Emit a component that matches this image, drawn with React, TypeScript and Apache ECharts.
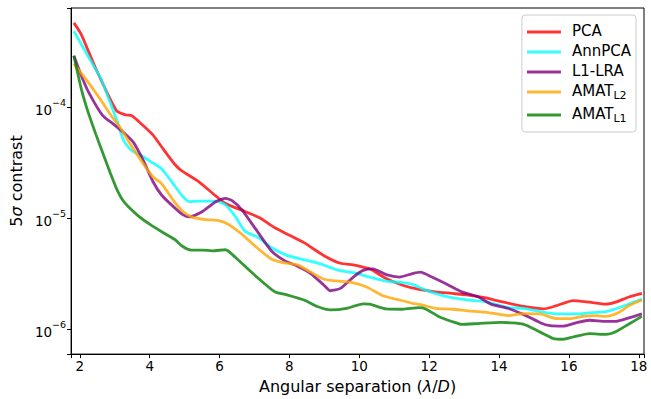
import React, { useEffect, useRef } from "react";
import * as echarts from "echarts";

const seriesNames = ["PCA", "AnnPCA", "L1-LRA", "AMAT_L2", "AMAT_L1"];
const seriesColors = [
  "rgba(255,0,0,0.8)",
  "rgba(0,255,255,0.8)",
  "rgba(128,0,128,0.8)",
  "rgba(255,165,0,0.8)",
  "rgba(0,128,0,0.8)",
];

const xTicks = [2, 4, 6, 8, 10, 12, 14, 16, 18];

const pca: [number, number][] = [
  [1.83, 5.73e-4], [2.04, 4.52e-4], [2.46, 2.21e-4], [3.05, 9.28e-5], [3.3, 8.55e-5],
  [3.49, 8.37e-5], [3.68, 7.46e-5], [4.08, 5.69e-5], [4.39, 4.19e-5], [4.71, 3.08e-5],
  [4.9, 2.7e-5], [5.42, 2.12e-5], [5.89, 1.59e-5], [6.17, 1.36e-5], [6.73, 1.15e-5],
  [7.15, 1.01e-5], [7.58, 8.21e-6], [8.05, 6.93e-6], [8.42, 6.04e-6], [8.99, 4.61e-6],
  [9.46, 3.94e-6], [9.83, 3.81e-6], [10.11, 3.63e-6], [10.3, 3.51e-6], [10.77, 2.87e-6],
  [11.24, 2.5e-6], [11.71, 2.29e-6], [12.18, 2.18e-6], [12.65, 2.11e-6], [13.12, 2.04e-6],
  [13.59, 1.93e-6], [14.06, 1.78e-6], [14.71, 1.61e-6], [15.28, 1.53e-6], [15.65, 1.64e-6],
  [16.12, 1.82e-6], [16.59, 1.76e-6], [17.06, 1.69e-6], [17.34, 1.76e-6], [17.72, 1.96e-6],
  [18.09, 2.11e-6],
];

const annPca: [number, number][] = [
  [1.83, 4.83e-4], [2.23, 2.9e-4], [2.6, 1.81e-4], [2.93, 9.8e-5], [3.07, 7.47e-5],
  [3.26, 4.96e-5], [3.49, 4.05e-5], [3.77, 3.66e-5], [4.06, 3.19e-5], [4.34, 2.79e-5],
  [4.67, 2.05e-5], [4.95, 1.57e-5], [5.14, 1.41e-5], [5.42, 1.43e-5], [5.89, 1.43e-5],
  [6.17, 1.32e-5], [6.45, 1.04e-5], [6.73, 7.67e-6], [7.11, 6.7e-6], [7.48, 5.46e-6],
  [7.95, 4.61e-6], [8.42, 4.25e-6], [8.89, 3.89e-6], [9.36, 3.44e-6], [9.83, 3.24e-6],
  [10.3, 2.96e-6], [10.77, 2.72e-6], [11.24, 2.64e-6], [11.52, 2.54e-6], [11.9, 2.26e-6],
  [12.27, 2.07e-6], [12.65, 1.93e-6], [13.12, 1.84e-6], [13.59, 1.78e-6], [13.96, 1.66e-6],
  [14.25, 1.57e-6], [14.71, 1.55e-6], [15.18, 1.45e-6], [15.65, 1.38e-6], [16.12, 1.38e-6],
  [16.59, 1.41e-6], [17.06, 1.45e-6], [17.53, 1.61e-6], [18.09, 1.88e-6],
];

const l1Lra: [number, number][] = [
  [1.83, 2.9e-4], [2.04, 1.93e-4], [2.27, 1.33e-4], [2.65, 8.45e-5], [2.98, 6.97e-5],
  [3.26, 5.88e-5], [3.54, 4.8e-5], [3.82, 3.3e-5], [4.1, 2.12e-5], [4.34, 1.62e-5],
  [4.67, 1.28e-5], [4.95, 1.08e-5], [5.14, 1.03e-5], [5.51, 1.15e-5], [5.89, 1.41e-5],
  [6.17, 1.51e-5], [6.36, 1.44e-5], [6.64, 1.19e-5], [7.01, 8.21e-6], [7.48, 5.11e-6],
  [7.86, 4.16e-6], [8.23, 3.71e-6], [8.61, 3.18e-6], [8.99, 2.5e-6], [9.17, 2.23e-6],
  [9.46, 2.34e-6], [9.83, 2.96e-6], [10.11, 3.4e-6], [10.39, 3.51e-6], [10.77, 3.11e-6],
  [11.15, 2.96e-6], [11.52, 3.18e-6], [11.75, 3.28e-6], [12.08, 2.96e-6], [12.56, 2.5e-6],
  [12.93, 2.18e-6], [13.4, 1.97e-6], [13.77, 1.69e-6], [14.25, 1.55e-6], [14.71, 1.36e-6],
  [15.18, 1.15e-6], [15.46, 1.08e-6], [15.84, 1.07e-6], [16.22, 1.15e-6], [16.59, 1.21e-6],
  [17.06, 1.18e-6], [17.34, 1.18e-6], [17.72, 1.27e-6], [18.09, 1.38e-6],
];

const amatL2: [number, number][] = [
  [1.83, 2.45e-4], [2.23, 1.69e-4], [2.6, 1.16e-4], [2.88, 8.55e-5], [3.16, 6.52e-5],
  [3.45, 4.63e-5], [3.82, 3.08e-5], [4.1, 2.35e-5], [4.34, 2.05e-5], [4.67, 1.46e-5],
  [4.95, 1.15e-5], [5.23, 1.02e-5], [5.61, 9.73e-6], [5.98, 9.55e-6], [6.26, 8.8e-6],
  [6.64, 7.18e-6], [7.01, 5.65e-6], [7.48, 4.31e-6], [7.86, 3.97e-6], [8.23, 3.81e-6],
  [8.61, 3.28e-6], [8.99, 2.83e-6], [9.36, 2.73e-6], [9.74, 2.67e-6], [10.21, 2.41e-6],
  [10.68, 2.01e-6], [11.15, 1.84e-6], [11.52, 1.72e-6], [11.8, 1.66e-6], [12.18, 1.55e-6],
  [12.65, 1.52e-6], [13.12, 1.47e-6], [13.59, 1.43e-6], [14.06, 1.36e-6], [14.25, 1.33e-6],
  [14.71, 1.39e-6], [15.18, 1.38e-6], [15.65, 1.25e-6], [16.03, 1.25e-6], [16.4, 1.31e-6],
  [16.78, 1.33e-6], [17.06, 1.31e-6], [17.44, 1.43e-6], [17.72, 1.64e-6], [18.09, 1.84e-6],
];

const amatL1: [number, number][] = [
  [1.83, 2.9e-4], [2.04, 1.47e-4], [2.23, 9.16e-5], [2.46, 5.69e-5], [2.65, 3.92e-5],
  [2.88, 2.52e-5], [3.07, 1.79e-5], [3.26, 1.41e-5], [3.63, 1.08e-5], [4.01, 8.8e-6],
  [4.39, 7.41e-6], [4.71, 6.48e-6], [4.95, 5.57e-6], [5.18, 5.18e-6], [5.51, 5.18e-6],
  [5.79, 5.1e-6], [6.17, 5.21e-6], [6.45, 4.46e-6], [7.01, 3.07e-6], [7.58, 2.18e-6],
  [7.95, 2.04e-6], [8.42, 1.84e-6], [8.8, 1.61e-6], [9.17, 1.5e-6], [9.64, 1.55e-6],
  [10.11, 1.7e-6], [10.3, 1.69e-6], [10.77, 1.53e-6], [11.24, 1.52e-6], [11.71, 1.57e-6],
  [11.9, 1.53e-6], [12.27, 1.31e-6], [12.65, 1.18e-6], [12.93, 1.11e-6], [13.4, 1.13e-6],
  [14.06, 1.16e-6], [14.71, 1.11e-6], [15.18, 9.46e-7], [15.56, 8.27e-7], [15.84, 8.16e-7],
  [16.12, 8.55e-7], [16.59, 9.16e-7], [17.06, 9.03e-7], [17.34, 9.54e-7], [17.72, 1.12e-6],
  [18.09, 1.31e-6],
];

const seriesData = [pca, annPca, l1Lra, amatL2, amatL1];

const FONT = "DejaVu Sans";

export default function App() {
  const ref = useRef<HTMLDivElement>(null);
  useEffect(() => {
    if (!ref.current) return;
    const chart = echarts.init(ref.current, null, { renderer: "svg" });
    const option: any = {
      animation: false,
      backgroundColor: "#fff",
      textStyle: { fontFamily: FONT },
      grid: {
        left: 63,
        right: 7,
        top: 8,
        bottom: 38,
        show: true,
        borderColor: "#000",
        borderWidth: 1,
        backgroundColor: "transparent",
      },
      legend: {
        orient: "vertical",
        right: 15,
        top: 15,
        padding: [8, 5, 8, 5],
        itemGap: 5,
        itemWidth: 34,
        itemHeight: 3,
        icon: "rect",
        backgroundColor: "rgba(255,255,255,0.8)",
        borderColor: "#cccccc",
        borderWidth: 1,
        borderRadius: 3,
        data: seriesNames,
        formatter: (name: string) => {
          if (name === "AMAT_L2") return "{m|AMAT}{s|L2}";
          if (name === "AMAT_L1") return "{m|AMAT}{s|L1}";
          return "{m|" + name + "}";
        },
        textStyle: {
          fontFamily: FONT,
          color: "#000",
          fontSize: 15,
          padding: [0, 0, 0, 6],
          rich: {
            m: { fontFamily: FONT, fontSize: 15, color: "#000", lineHeight: 18, verticalAlign: "top" },
            s: { fontFamily: FONT, fontSize: 11, color: "#000", lineHeight: 18, verticalAlign: "bottom", padding: [6, 0, 0, 0] },
          },
        },
      },
      xAxis: {
        type: "value",
        min: 1.75,
        max: 18.15,
        splitNumber: 8,
        splitLine: { show: false },
        axisLine: { show: true, onZero: false, lineStyle: { color: "#000", width: 1 } },
        axisTick: { show: true, inside: false, length: 4, lineStyle: { color: "#000" } },
        axisLabel: {
          color: "#000",
          fontFamily: FONT,
          fontSize: 13.5,
          margin: 5,
          formatter: (v: number) => (xTicks.indexOf(Math.round(v * 1000) / 1000) >= 0 ? String(v) : ""),
        },
        name: "Angular separation ({i|λ}/{i|D})",
        nameLocation: "middle",
        nameGap: 17,
        nameTextStyle: {
          fontFamily: FONT,
          fontSize: 16,
          color: "#000",
          rich: { i: { fontFamily: FONT, fontSize: 16, fontStyle: "italic", color: "#000" } },
        },
      },
      yAxis: {
        type: "log",
        logBase: 10,
        min: 6.0e-7,
        max: 7.8e-4,
        splitLine: { show: false },
        minorTick: { show: false },
        axisLine: { show: true, lineStyle: { color: "#000", width: 1 } },
        axisTick: { show: true, inside: false, length: 4, lineStyle: { color: "#000" } },
        axisLabel: {
          color: "#000",
          fontFamily: FONT,
          margin: 5,
          formatter: (v: number) => {
            const l = Math.log10(v);
            const r = Math.round(l);
            if (Math.abs(l - r) > 1e-6) return "";
            return "{a|10}{b|\u2212" + Math.abs(r) + "}";
          },
          rich: {
            a: { fontFamily: FONT, fontSize: 13.5, color: "#000", lineHeight: 20, verticalAlign: "bottom" },
            b: { fontFamily: FONT, fontSize: 9.5, color: "#000", verticalAlign: "top" },
          },
        },
        name: "5{i|σ} contrast",
        nameLocation: "middle",
        nameGap: 37,
        nameTextStyle: {
          fontFamily: FONT,
          fontSize: 16,
          color: "#000",
          rich: { i: { fontFamily: FONT, fontSize: 16, fontStyle: "italic", color: "#000" } },
        },
      },
      series: seriesNames.map((name, i) => ({
        name,
        type: "line",
        data: seriesData[i],
        showSymbol: false,
        smooth: 0.2,
        lineStyle: { color: seriesColors[i], width: 2.8 },
        itemStyle: { color: seriesColors[i] },
      })),
    };
    chart.setOption(option);
    return () => chart.dispose();
  }, []);
  return <div ref={ref} style={{ width: 651, height: 399, position: "absolute", left: 0, top: 0 }} />;
}
